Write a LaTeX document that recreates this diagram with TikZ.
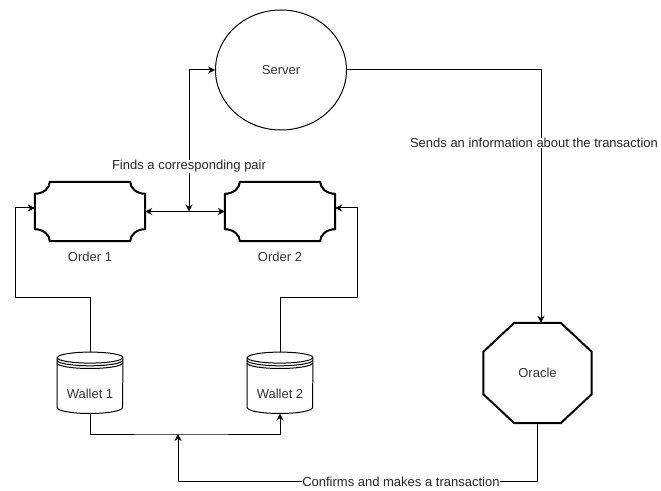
\documentclass[tikz,border=0pt]{standalone}
\usepackage{fontspec}
\setmainfont{Liberation Sans}
\usetikzlibrary{arrows.meta,shapes.geometric}

\newcommand{\drawplaque}[1]{%
  \draw[line width=2pt] ([xshift=15pt]#1.south west) -- ([xshift=-15pt]#1.south east)
    arc[start angle=180,end angle=90,x radius=15pt,y radius=12pt] -- ([yshift=-12pt]#1.north east)
    arc[start angle=270,end angle=180,x radius=15pt,y radius=12pt] -- ([xshift=15pt]#1.north west)
    arc[start angle=0,end angle=-90,x radius=15pt,y radius=12pt] -- ([yshift=12pt]#1.south west)
    arc[start angle=90,end angle=0,x radius=15pt,y radius=12pt] -- cycle;}

\newcommand{\drawdatastore}[1]{%
  \draw[line width=1pt] ([yshift=-5.5pt]#1.north west) -- ([yshift=6pt]#1.south west)
    arc[start angle=180,end angle=360,x radius=32.75pt,y radius=6pt] -- ([yshift=-5.5pt]#1.north east)
    arc[start angle=0,end angle=180,x radius=32.75pt,y radius=5.5pt] -- cycle;
  \foreach \dd in {5.5,8.2,10.9}
    \draw[line width=1pt] ([yshift=-\dd pt]#1.north west) arc[start angle=180,end angle=360,x radius=32.75pt,y radius=5.5pt];}

\newcommand{\drawoctagon}[1]{%
  \draw[line width=2pt] ([xshift=31pt]#1.north west) -- ([xshift=-31pt]#1.north east)
    -- ([yshift=-29pt]#1.north east) -- ([yshift=29pt]#1.south east)
    -- ([xshift=-31pt]#1.south east) -- ([xshift=31pt]#1.south west)
    -- ([yshift=29pt]#1.south west) -- ([yshift=-29pt]#1.north west) -- cycle;}

\begin{document}
\begin{tikzpicture}[x=1pt,y=1pt,
  every node/.style={font=\fontsize{13}{15}\selectfont, text=black!80},
  conn/.style={line width=1pt, -{Stealth[length=7pt,width=7pt]}},
  twoway/.style={line width=1pt, {Stealth[length=7pt,width=7pt]}-{Stealth[length=7pt,width=7pt]}},
  lbl/.style={fill=white, inner sep=0.5pt, text=black!85},
  orderbox/.style={minimum width=110pt, minimum height=59pt, inner sep=0pt},
  walletbox/.style={minimum width=65.5pt, minimum height=61pt, inner sep=0pt, text height=46pt, text depth=15pt},
  serverbox/.style={ellipse, draw, line width=1pt, minimum width=131pt, minimum height=120pt, inner sep=0pt},
  oraclebox/.style={minimum width=108pt, minimum height=100pt, inner sep=0pt}]
\useasboundingbox (0,0) rectangle (661,490);

\node[serverbox] (server) at (281,420) {Server};
\node[orderbox] (order1) at (90,278.5) {};
\node[orderbox] (order2) at (280,278.5) {};
\node (ord1lbl) at (90,233) {Order 1};
\node (ord2lbl) at (280,233) {Order 2};
\node[walletbox] (wallet1) at (90,107.2) {Wallet 1};
\node[walletbox] (wallet2) at (280,107.2) {Wallet 2};
\node[oraclebox] (oracle) at (537.5,117) {Oracle};

\drawplaque{order1}
\drawplaque{order2}
\drawdatastore{wallet1}
\drawdatastore{wallet2}
\drawoctagon{oracle}

\coordinate (pair) at (189,278.5);
\coordinate (w1bend) at (15,192);
\coordinate (w2bend) at (357,192);
\coordinate (merge) at (178,56);
\coordinate (low) at (178,8.5);

\draw[twoway] (order1.east) -- (order2.west);
\draw[twoway] (server.west) -| node[lbl, pos=0.84] {Finds a corresponding pair} (pair);
\draw[conn] (server.east) -| node[lbl, pos=0.644, xshift=-7pt] {Sends an information about the transaction} ([xshift=3.5pt]oracle.north);
\draw[conn] (wallet1.north) |- (w1bend) |- ([yshift=3.5pt]order1.west);
\draw[conn] (wallet2.north) |- (w2bend) |- ([yshift=3.5pt]order2.east);
\draw[conn] (wallet1.south) |- (merge) -| (wallet2.south);
\draw[conn] (oracle.south) |- node[lbl, pos=0.69] {Confirms and makes a transaction} (low) -- (merge);

\end{tikzpicture}
\end{document}
